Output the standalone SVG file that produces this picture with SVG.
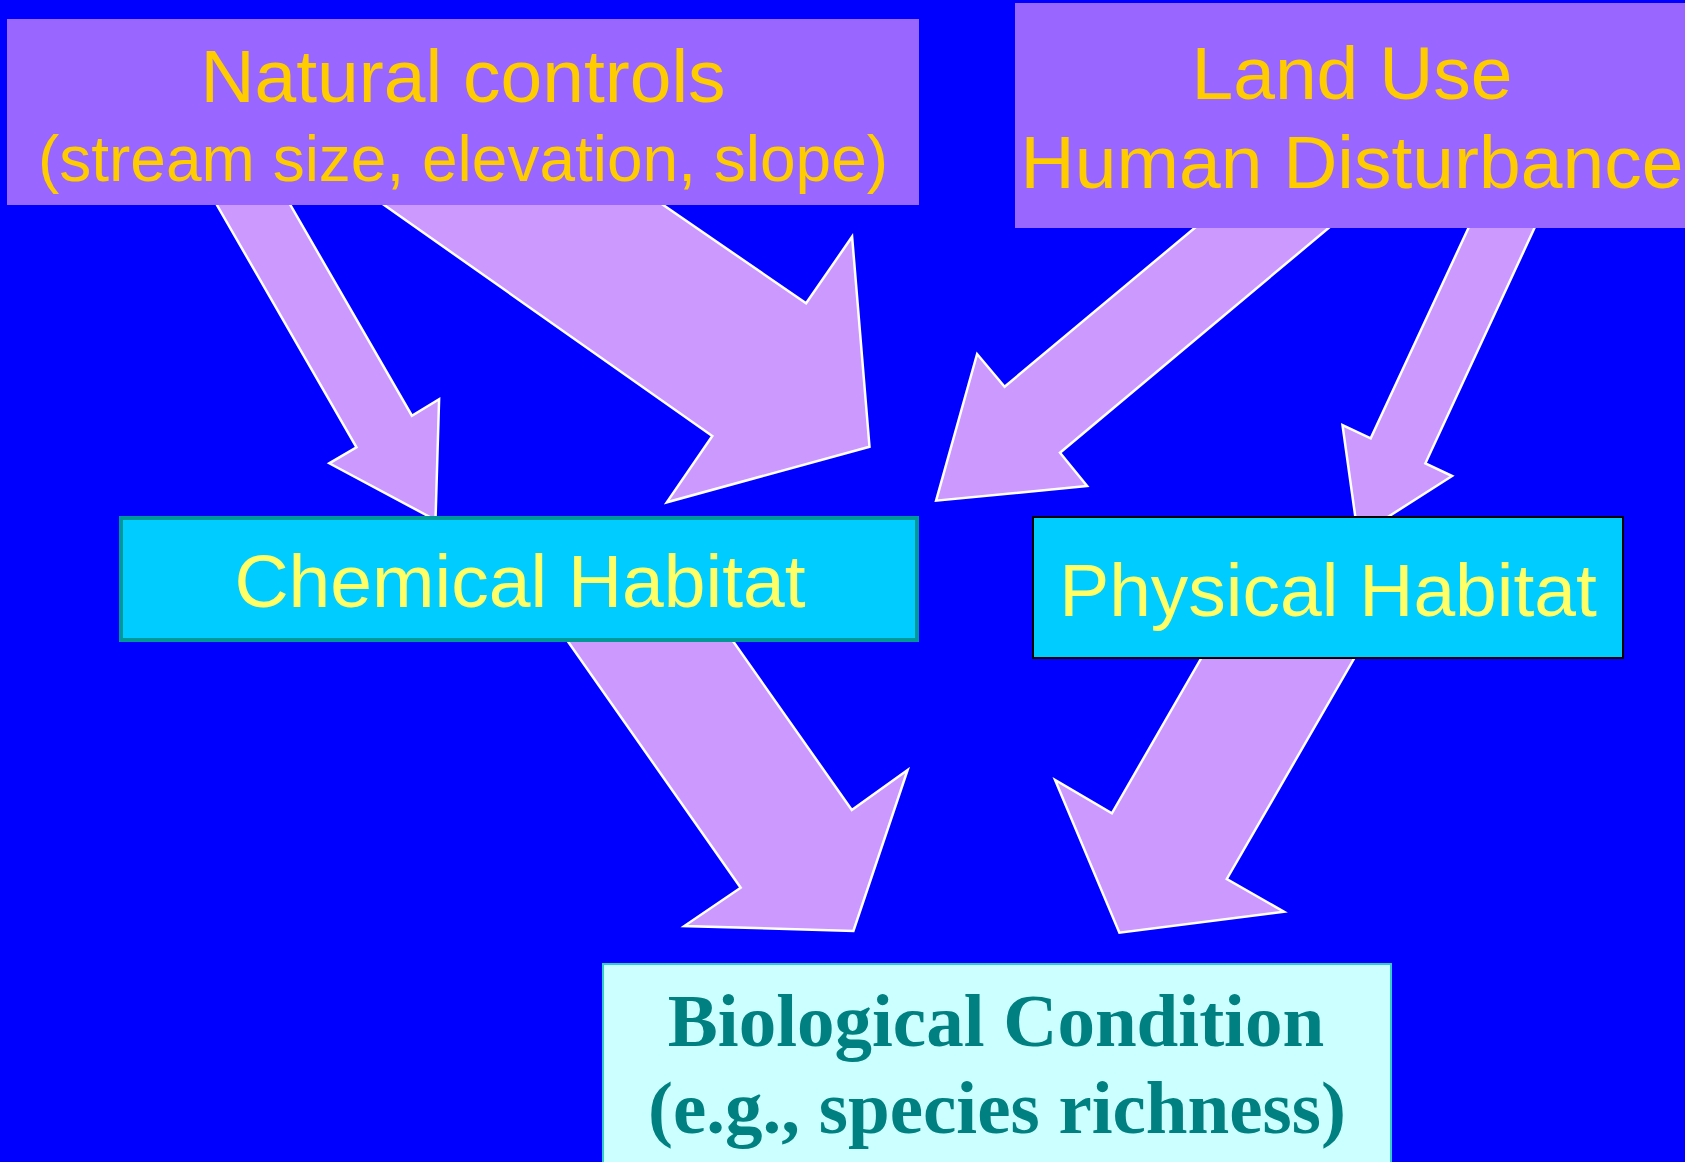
<svg xmlns="http://www.w3.org/2000/svg" width="1685" height="1162" viewBox="0 0 1685 1162">
<style>
.arrow{fill:#CC99FF;stroke:#FFFFFF;stroke-width:2.5;stroke-linejoin:miter}
.src{fill:#9966FF}
.srct{font-family:"Liberation Sans",Arial,sans-serif;fill:#FFCC00;text-anchor:middle}
.hab{fill:#00CCFF}
.habt{font-family:"Liberation Sans",Arial,sans-serif;font-size:75px;fill:#FFFF66;text-anchor:middle}
.biot{font-family:"Liberation Serif","Times New Roman",serif;font-weight:bold;font-size:75px;fill:#008080;text-anchor:middle}
</style>
<rect x="0" y="0" width="1685" height="1162" fill="#0000FF"/>
<g id="connectors">
<polygon class="arrow" points="211.2,195 284.6,195 411.9,415.7 439.1,399.3 435.5,520 329.3,463.3 356.5,447.3"/>
<polygon class="arrow" points="370,195 648.7,195 806.1,303.3 852.1,236.7 869.5,446.7 666.8,502.3 712.3,436"/>
<polygon class="arrow" points="1206.6,218 1340.5,218 1060,452.7 1087.1,486 936.1,500.7 977.1,354 1004.6,386.7"/>
<polygon class="arrow" points="1473.1,218 1539.1,218 1425.4,463.3 1452.1,476 1358,536 1342.5,425 1370.7,438.3"/>
<polygon class="arrow" points="561.3,632 726.6,632 851.8,810 907.6,770 853.4,931 684.3,926 740.7,887.7"/>
<polygon class="arrow" points="1206,650 1359,650 1226.8,879 1284,911.7 1119.4,932.7 1055.1,780 1111.9,813.3"/>
</g>
<g id="natural-controls">
<rect class="src" x="7" y="19" width="912" height="186"/>
<text class="srct" x="463" y="102" font-size="75">Natural controls</text>
<text class="srct" x="463" y="181" font-size="64">(stream size, elevation, slope)</text>
</g>
<g id="land-use">
<rect class="src" x="1015" y="3" width="674" height="225"/>
<text class="srct" x="1352" y="99" font-size="75">Land Use</text>
<text class="srct" x="1352" y="188" font-size="75">Human Disturbance</text>
</g>
<g id="chemical-habitat">
<rect class="hab" x="121" y="518" width="796" height="122" stroke="#009999" stroke-width="4"/>
<text class="habt" x="520" y="607">Chemical Habitat</text>
</g>
<g id="physical-habitat">
<rect class="hab" x="1033" y="517" width="590" height="141" stroke="#000000" stroke-width="2"/>
<text class="habt" x="1328" y="616">Physical Habitat</text>
</g>
<g id="biological-condition">
<rect x="603" y="964" width="788" height="210" fill="#CCFFFF" stroke="#33CCCC" stroke-width="2"/>
<text class="biot" x="996" y="1046">Biological Condition</text>
<text class="biot" x="997" y="1133">(e.g., species richness)</text>
</g>
</svg>
